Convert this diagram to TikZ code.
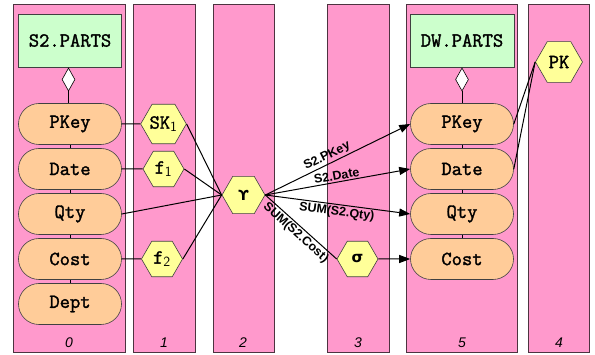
\documentclass[tikz,border=0pt]{standalone}
\usepackage{fontspec}
\setmainfont{Liberation Sans}
\newfontfamily\dejavu{DejaVu Sans}
\newfontfamily\courfont{Latin Modern Mono}[FakeBold=1.6]
\usetikzlibrary{shapes.geometric,shapes.misc,arrows.meta}
\definecolor{lanepink}{HTML}{FF99CC}
\definecolor{laneedge}{HTML}{4D3340}
\definecolor{pillfill}{HTML}{FFCC99}
\definecolor{hexfill}{HTML}{FFFF99}
\definecolor{tablefill}{HTML}{CCFFCC}
\begin{document}
\begin{tikzpicture}[x=1pt,y=-1pt,
 lane/.style={draw=laneedge,fill=lanepink,line width=1pt},
 lanenum/.style={font=\fontsize{14}{14}\selectfont\itshape,inner sep=0pt},
 monotext/.style={font=\courfont\fontsize{20}{20}\selectfont},
 tablebox/.style={monotext,draw=black!75,fill=tablefill,line width=0.6pt,minimum width=103pt,minimum height=53pt,inner sep=0pt},
 attr/.style={monotext,rounded rectangle,draw=black!75,fill=pillfill,line width=0.6pt,minimum width=103pt,minimum height=41pt,inner sep=0pt},
 hexa/.style={monotext,regular polygon,regular polygon sides=6,draw=black!75,fill=hexfill,line width=0.6pt,inner sep=0pt,minimum size=41pt},
 agg/.style={diamond,draw=black,fill=white,minimum width=13pt,minimum height=23pt,inner sep=0pt,line width=0.6pt},
 link/.style={line width=1pt},
 flow/.style={line width=1pt,-{Triangle[length=11pt,width=8pt]}},
 elabel/.style={font=\bfseries\fontsize{12.5}{12.5}\selectfont,sloped,inner sep=1.5pt}]
\useasboundingbox[fill=white] (0,0) rectangle (595,355);
% lanes
\path[lane] (13,5) rectangle (125,353);
\path[lane] (133,5) rectangle (195,353);
\path[lane] (213,5) rectangle (274,353);
\path[lane] (327,5) rectangle (389,353);
\path[lane] (406,5) rectangle (517,353);
\path[lane] (528,5) rectangle (589,353);
\node[lanenum] (n0) at (69,343) {0};
\node[lanenum] (n1) at (164,343) {1};
\node[lanenum] (n2) at (243,343) {2};
\node[lanenum] (n3) at (358,343) {3};
\node[lanenum] (n5) at (462,343) {5};
\node[lanenum] (n4) at (559,343) {4};
% source table
\node[tablebox] (src) at (70,40.5) {S2.PARTS};
\node[agg] (srcd) at (68.5,79.5) {};
\node[attr] (sPKey) at (70,124) {PKey};
\node[attr] (sDate) at (70,169) {Date};
\node[attr] (sQty) at (70,214) {Qty};
\node[attr] (sCost) at (70,259) {Cost};
\node[attr] (sDept) at (70,304) {Dept};
\draw[line width=0.6pt] (srcd.south) -- (srcd.south |- sPKey.north);
\draw[line width=0.6pt] (sPKey.south) -- (sDate.north);
\draw[line width=0.6pt] (sDate.south) -- (sQty.north);
\draw[line width=0.6pt] (sQty.south) -- (sCost.north);
\draw[line width=0.6pt] (sCost.south) -- (sDept.north);
% target table
\node[tablebox,minimum width=104pt] (dw) at (462,40.5) {DW.PARTS};
\node[agg] (dwd) at (462,79.5) {};
\node[attr] (dPKey) at (462,124) {PKey};
\node[attr] (dDate) at (462,169) {Date};
\node[attr] (dQty) at (462,214) {Qty};
\node[attr] (dCost) at (462,259) {Cost};
\draw[line width=0.6pt] (dwd.south) -- (dPKey.north);
\draw[line width=0.6pt] (dPKey.south) -- (dDate.north);
\draw[line width=0.6pt] (dDate.south) -- (dQty.north);
\draw[line width=0.6pt] (dQty.south) -- (dCost.north);
% operators
\node[hexa] (sk) at (163.5,124) {SK\textsubscript{\sffamily\mdseries 1}};
\node[hexa] (f1) at (163.5,169) {f\textsubscript{\sffamily\mdseries 1}};
\node[hexa] (f2) at (162,259) {f\textsubscript{\sffamily\mdseries 2}};
\node[hexa,minimum size=43pt,font=\dejavu\bfseries\fontsize{14}{14}\selectfont] (gam) at (243.5,195) {ϒ};
\node[hexa,font=\dejavu\bfseries\fontsize{15}{15}\selectfont] (sig) at (357.5,259) {σ};
\node[hexa,minimum size=47pt] (pk) at (559,62) {PK};
% connectors
\draw[link] (sPKey.east) -- (sk.west);
\draw[link] (sDate.east) -- (f1.west);
\draw[link] (sCost.east) -- (f2.west);
\draw[link] (sk.east) -- (gam.west);
\draw[link] (f1.east) -- (gam.west);
\draw[link] (f2.east) -- (gam.west);
\draw[link] (sQty.east) -- (gam.west);
\draw[flow] (gam.east) -- node[elabel,above,pos=0.45] {S2.PKey} (dPKey.west);
\draw[flow] (gam.east) -- node[elabel,above,pos=0.5] {S2.Date} (dDate.west);
\draw[flow] (gam.east) -- node[elabel,below,pos=0.5] {SUM(S2.Qty)} (dQty.west);
\draw[link] (gam.east) -- node[elabel,below,pos=0.5] {SUM(S2.Cost)} (sig.west);
\draw[flow] (sig.east) -- (dCost.west);
\draw[link] (pk.corner 3) -- (dPKey.east);
\draw[link] (pk.corner 3) -- (dDate.east);
\end{tikzpicture}
\end{document}
